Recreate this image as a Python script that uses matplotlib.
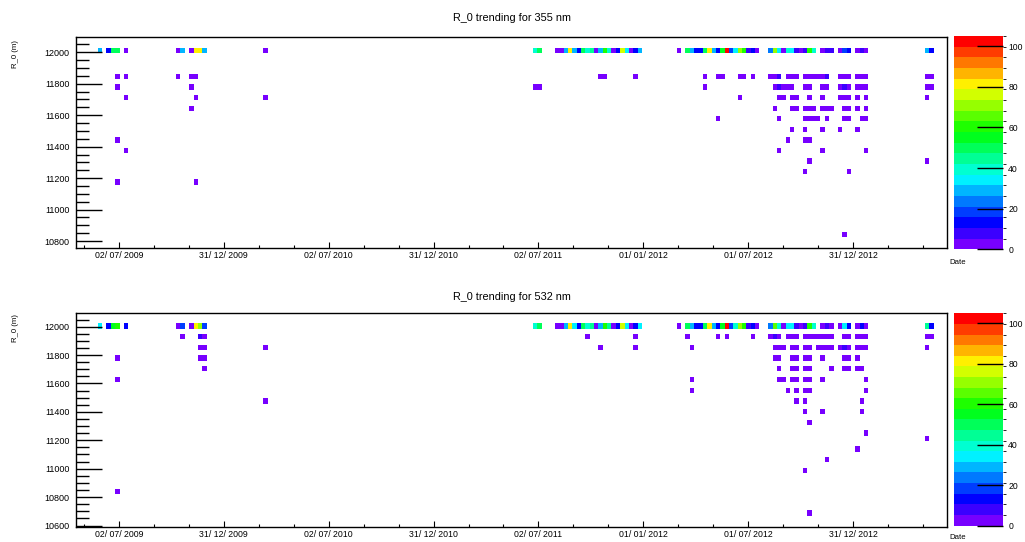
import numpy as np
import matplotlib
matplotlib.use("Agg")
import matplotlib.pyplot as plt
from matplotlib.colors import ListedColormap, BoundaryNorm, hsv_to_rgb
from matplotlib.ticker import MultipleLocator

plt.rcParams['font.family'] = ['Liberation Sans', 'DejaVu Sans']

# x values are days counted from 02/07/2009
tick_days = [0, 182.5, 365, 547.5, 730, 912.5, 1095, 1277.5]
tick_labels = ["02/ 07/ 2009", "31/ 12/ 2009", "02/ 07/ 2010", "31/ 12/ 2010",
               "02/ 07/ 2011", "01/ 01/ 2012", "01/ 07/ 2012", "31/ 12/ 2012"]

# ---------------- 355 nm ----------------
top_r0_355 = 12010
top_days_355 = [-33, -18, -10, -3, 12, 103, 111, 126, 134, 141, 149, 255,
                724, 732,
                762, 770, 778, 785, 793, 800, 808, 815, 823, 831, 838, 846, 853, 861, 868, 876, 884, 891, 899, 906,
                974,
                990, 997, 1005, 1012, 1020, 1028, 1035, 1043, 1050, 1058, 1065, 1073, 1081, 1088, 1096, 1103, 1111,
                1134, 1141, 1149, 1156, 1164, 1172, 1179, 1187, 1194, 1202, 1209,
                1225, 1232, 1240, 1255, 1262, 1270, 1285, 1293, 1300, 1406, 1414]
top_counts_355 = [28, 13, 52, 52, 2, 2, 28, 2, 82, 80, 28, 2,
                  38, 48,
                  2, 3, 28, 80, 30, 13, 48, 38, 44, 4, 28, 58, 40, 5, 13, 75, 33, 4, 11, 30,
                  2,
                  50, 28, 15, 12, 52, 82, 28, 14, 56, 100, 20, 36, 72, 60, 8, 13, 4,
                  25, 70, 35, 4, 38, 32, 10, 4, 7, 60, 38,
                  4, 8, 8, 3, 20, 12, 4, 10, 5, 28, 14]

rows_355 = [11845, 11780, 11710, 11645, 11575, 11510, 11445, 11375, 11310, 11240, 11175, 10840]
days_355 = [
    [-3, 12, 103, 126, 134, 838, 846, 899, 1020, 1043, 1050, 1081, 1088, 1103, 1134, 1141, 1149, 1164,
     1172, 1179, 1194, 1202, 1209, 1217, 1225, 1232, 1255, 1262, 1270, 1285, 1293, 1300, 1406, 1414],
    [-3, 126, 724, 732, 1020, 1141, 1149, 1156, 1164, 1172, 1194, 1202, 1225, 1232, 1255, 1262, 1270,
     1285, 1293, 1300, 1406, 1414],
    [12, 134, 255, 1081, 1149, 1156, 1172, 1179, 1202, 1225, 1255, 1262, 1270, 1285, 1300, 1406],
    [126, 1141, 1172, 1179, 1194, 1202, 1209, 1225, 1232, 1240, 1262, 1270, 1285, 1300],
    [1043, 1149, 1194, 1202, 1209, 1217, 1232, 1262, 1270, 1293, 1300],
    [1172, 1194, 1225, 1255, 1285],
    [-3, 1164, 1194, 1202],
    [12, 1149, 1225, 1300],
    [1202, 1406],
    [1194, 1270],
    [-3, 134],
    [1262],
]
dark_355 = [(11845, 1149, 10), (11845, 1232, 10), (11780, 1149, 10), (11780, 1262, 10)]

# ---------------- 532 nm ----------------
top_r0_532 = 12000
top_days_532 = [-33, -18, -10, -3, 12, 103, 111, 126, 134, 141, 149,
                724, 732,
                762, 770, 778, 785, 793, 800, 808, 815, 823, 831, 838, 846, 853, 861, 868, 876, 884, 891, 899, 906,
                974,
                990, 997, 1005, 1012, 1020, 1028, 1035, 1043, 1050, 1058, 1065, 1073, 1081, 1088, 1096, 1103, 1111,
                1134, 1141, 1149, 1156, 1164, 1172, 1179, 1187, 1194, 1202, 1209,
                1225, 1232, 1240, 1255, 1262, 1270, 1285, 1293, 1300, 1406, 1414]
top_counts_532 = [32, 13, 56, 58, 13, 2, 16, 2, 82, 73, 20,
                  38, 50,
                  2, 2, 27, 80, 33, 13, 48, 38, 44, 4, 27, 58, 42, 4, 14, 75, 32, 4, 11, 32,
                  2,
                  50, 28, 15, 12, 52, 82, 28, 14, 56, 100, 20, 40, 72, 60, 8, 13, 4,
                  25, 66, 38, 4, 33, 36, 10, 4, 10, 60, 40,
                  4, 10, 4, 3, 33, 12, 4, 12, 5, 42, 14]

rows_532 = [11925, 11850, 11775, 11700, 11625, 11550, 11475, 11400, 11325, 11250, 11215,
            11140, 11060, 10990, 10840, 10690]
days_532 = [
    [111, 141, 149, 815, 899, 990, 1043, 1058, 1103, 1134, 1141, 1149, 1164, 1172, 1179, 1194, 1202,
     1209, 1217, 1225, 1232, 1240, 1262, 1270, 1285, 1293, 1300, 1406, 1414],
    [141, 149, 255, 838, 899, 997, 1141, 1149, 1156, 1172, 1179, 1194, 1202, 1217, 1225, 1232, 1240,
     1255, 1262, 1270, 1285, 1293, 1300, 1406],
    [-3, 141, 149, 1141, 1149, 1172, 1179, 1194, 1202, 1225, 1262, 1270, 1285],
    [149, 1149, 1172, 1179, 1194, 1202, 1240, 1262, 1270, 1285, 1293],
    [-3, 997, 1149, 1156, 1172, 1179, 1194, 1202, 1225, 1300],
    [997, 1164, 1179, 1194, 1202, 1300],
    [255, 1179, 1194, 1293],
    [1194, 1225, 1293],
    [1202],
    [1300],
    [1406],
    [1285],
    [1232],
    [1194],
    [-3],
    [1202],
]
dark_532 = [(11925, 141, 8), (11925, 1141, 10), (11850, 1262, 10)]

XLIM = (-74.8, 1440.5)
NBX, NBY = 200, 40
ZMAX = 105

# ROOT-like rainbow palette, 20 contour levels
hues = np.linspace(268, 0, 20) / 360.0
cmap = ListedColormap(hsv_to_rgb(np.column_stack([hues, np.ones(20), np.ones(20)])))
norm = BoundaryNorm(np.linspace(0, ZMAX, 21), cmap.N)


def collect(top_r0, top_days, top_counts, rows, row_days, dark):
    x = list(top_days)
    y = [top_r0] * len(top_days)
    w = list(top_counts)
    for r0, days in zip(rows, row_days):
        for d in days:
            x.append(d)
            y.append(r0)
            w.append(2)
    for r0, d, c in dark:
        for i in range(len(x)):
            if x[i] == d and y[i] == r0:
                w[i] = c
    return np.array(x), np.array(y), np.array(w)


def draw(ax, cax, x, y, w, ylim, yticks):
    xedges = np.linspace(XLIM[0], XLIM[1], NBX + 1)
    yedges = np.linspace(ylim[0], ylim[1], NBY + 1)
    H, _, _ = np.histogram2d(x, y, bins=[xedges, yedges], weights=w)
    H = np.ma.masked_equal(H.T, 0)
    mesh = ax.pcolormesh(xedges, yedges, H, cmap=cmap, norm=norm, edgecolors='none')

    ax.set_xlim(*XLIM)
    ax.set_ylim(*ylim)
    ax.set_xticks(tick_days)
    ax.set_xticklabels(tick_labels)
    ax.xaxis.set_minor_locator(MultipleLocator(182.5 / 3))
    ax.set_yticks(yticks)
    ax.yaxis.set_minor_locator(MultipleLocator(50))
    ax.ticklabel_format(axis='y', useOffset=False, style='plain')
    ax.tick_params(axis='x', which='major', direction='in', length=4.3, width=0.8,
                   labelsize=6.3, pad=2.5, top=False)
    ax.tick_params(axis='x', which='minor', direction='in', length=2.4, width=0.8, top=False)
    ax.tick_params(axis='y', which='major', direction='in', length=18.7, width=1.0,
                   labelsize=6.5, pad=4.5, right=False)
    ax.tick_params(axis='y', which='minor', direction='in', length=9.4, width=1.0, right=False)
    for s in ax.spines.values():
        s.set_linewidth(1.0)

    cb = plt.colorbar(mesh, cax=cax, ticks=[0, 20, 40, 60, 80, 100])
    cb.outline.set_visible(False)
    cax.tick_params(direction='in', length=18.7, width=1.0, labelsize=6.2, pad=3.5,
                    right=True, left=False)


fig = plt.figure(figsize=(10.25, 5.42), dpi=100)
W, Hpx = 1025.0, 542.0
ax1 = fig.add_axes([76 / W, 1 - 248 / Hpx, 870.7 / W, 211 / Hpx])
cax1 = fig.add_axes([954 / W, 1 - 249.3 / Hpx, 49.3 / W, 213.3 / Hpx])
ax2 = fig.add_axes([76 / W, 1 - 526.5 / Hpx, 870.7 / W, 213.8 / Hpx])
cax2 = fig.add_axes([954 / W, 1 - 525.5 / Hpx, 49.3 / W, 212.2 / Hpx])

x, y, w = collect(top_r0_355, top_days_355, top_counts_355, rows_355, days_355, dark_355)
draw(ax1, cax1, x, y, w, (10755.5, 12097.3), list(range(10800, 12001, 200)))
x, y, w = collect(top_r0_532, top_days_532, top_counts_532, rows_532, days_532, dark_532)
draw(ax2, cax2, x, y, w, (10593, 12098.5), list(range(10600, 12001, 200)))

fig.text(512 / W, 1 - 18 / Hpx, "R_0 trending for 355 nm", ha='center', va='center', fontsize=7.8)
fig.text(512 / W, 1 - 297 / Hpx, "R_0 trending for 532 nm", ha='center', va='center', fontsize=7.8)
fig.text(15.5 / W, 1 - 40 / Hpx, "R_0 (m)", rotation=90, ha='center', va='top', fontsize=5.6)
fig.text(15.5 / W, 1 - 314 / Hpx, "R_0 (m)", rotation=90, ha='center', va='top', fontsize=5.6)
fig.text(958 / W, 1 - 263 / Hpx, "Date", ha='center', va='center', fontsize=5.6)
fig.text(958 / W, 1 - 541 / Hpx, "Date", ha='center', va='bottom', fontsize=5.6)

fig.savefig("out.png", dpi=100)
